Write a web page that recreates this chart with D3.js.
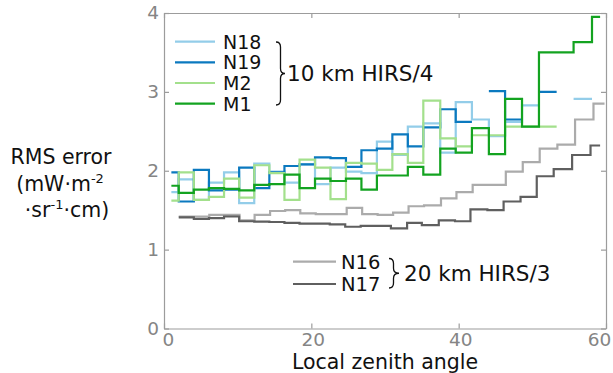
<!DOCTYPE html>
<html>
  <head>
    <meta charset="utf-8">
    <title>RMS error vs local zenith angle</title>
    <script src="https://d3js.org/d3.v7.min.js"></script>
    <style>
      body { margin: 0; background: #fff; }
      text { font-family: "DejaVu Sans", Verdana, sans-serif; }
    </style>
  </head>
  <body>
    <div class="chart"></div>
    <script>
      // bin edges (local zenith angle, deg), one more than values
      const edges4 = [1.0, 2.0, 4.05, 6.1, 8.15, 10.2, 12.25, 14.3, 16.35, 18.4, 20.5, 22.6, 24.7, 26.8, 28.9,
        31.0, 33.1, 35.2, 37.5, 39.6, 41.8, 44.1, 46.3, 48.6, 50.9, 53.3, 55.6, 58.1, 59.2];
      const edgesN16 = [2.0, 4.1, 6.15, 8.2, 10.25, 12.3, 14.4, 16.45, 18.5, 20.6, 22.7, 24.8, 26.9, 29.0,
        31.1, 33.2, 35.3, 37.6, 39.7, 41.9, 44.2, 46.4, 48.7, 51.0, 53.4, 55.8, 58.3, 59.8];
      const edgesN17 = [2.0, 4.05, 6.1, 8.15, 10.2, 12.25, 14.3, 16.35, 18.4, 20.45, 22.5, 24.6, 26.7, 28.8,
        30.8, 33.0, 35.0, 37.3, 39.5, 41.6, 43.9, 46.1, 48.4, 50.6, 52.9, 55.4, 57.9, 59.2];

      // RMS error per bin, null = no data
      const n18 = [1.73, 1.89, 1.63, 1.85, 1.98, 1.59, 2.09, 1.99, 1.85, 2.08, 1.83, 2.04, 1.99, 1.97,
        2.37, 2.20, 2.56, 2.60, 2.23, 2.87, 2.65, 2.44, 2.62, 2.83, null, null, 2.91, null];
      const n19 = [1.98, 1.61, 2.01, 1.75, 1.76, 2.04, 1.78, 1.98, 2.06, 2.08, 2.17, 2.16, 2.05, 2.26,
        2.28, 2.46, 2.31, 2.55, 2.78, 2.62, null, 3.01, 2.65, null, 3.00, null, null, null];
      const m2 = [1.62, 1.98, 1.63, 1.67, 1.90, 1.66, 2.07, 1.97, 1.63, 2.14, 2.04, 1.64, 2.10, 2.09,
        2.01, 2.21, 2.10, 2.89, 2.41, 2.31, 2.45, 2.45, 2.56, 2.56, 2.56, null, null, null];
      const m1 = [1.81, 1.72, 1.76, 1.78, 1.77, 1.75, 1.82, 1.83, 1.95, 1.78, 1.90, 1.87, 1.90, 1.76,
        1.94, 1.94, 2.05, 1.95, 2.28, 2.23, 2.54, 2.21, 2.91, 2.56, 3.50, 3.50, 3.63, 3.95];
      const n16 = [1.42, 1.42, 1.44, 1.44, 1.37, 1.44, 1.49, 1.50, 1.46, 1.45, 1.45, 1.53, 1.45, 1.44,
        1.47, 1.55, 1.56, 1.65, 1.73, 1.82, 1.82, 1.99, 2.11, 2.28, 2.33, 2.65, 2.85];
      const n17 = [1.41, 1.39, 1.40, 1.42, 1.36, 1.355, 1.35, 1.34, 1.33, 1.33, 1.32, 1.29, 1.30, 1.30,
        1.27, 1.34, 1.31, 1.37, 1.36, 1.51, 1.50, 1.61, 1.67, 1.93, 2.02, 2.20, 2.32];

      const xTicks = [0, 20, 40, 60];
      const yTicks = [0, 1, 2, 3, 4];

      const series = [
        {name: "N18", edges: edges4, values: n18, color: "#93cde9"},
        {name: "N19", edges: edges4, values: n19, color: "#0b79bf"},
        {name: "M2", edges: edges4, values: m2, color: "#a3e08c"},
        {name: "M1", edges: edges4, values: m1, color: "#13a320"},
        {name: "N16", edges: edgesN16, values: n16, color: "#ababab"},
        {name: "N17", edges: edgesN17, values: n17, color: "#5f5f5f"}
      ];

      const W = 613, H = 373;
      const svg = d3.select("div.chart").append("svg")
        .attr("width", W)
        .attr("height", H);

      const x = d3.scaleLinear().domain([0, 60]).range([164, 606]);
      const y = d3.scaleLinear().domain([0, 4]).range([328.5, 13]);
      const axisGray = "#9c9c9c";
      const tickGray = "#858585";

      // stairs like matlab: horizontal per bin, vertical joins, gaps for null
      function stairPoints(edges, values) {
        const pts = [];
        values.forEach((v, i) => {
          pts.push([edges[i], v]);
          pts.push([edges[i + 1], v]);
        });
        return pts;
      }
      const line = d3.line()
        .defined(d => d[1] != null)
        .x(d => x(d[0]))
        .y(d => y(d[1]));

      svg.append("g").selectAll("path")
        .data(series)
        .join("path")
        .attr("d", d => line(stairPoints(d.edges, d.values)))
        .attr("fill", "none")
        .attr("stroke", d => d.color)
        .attr("stroke-width", 2.2)
        .attr("stroke-linejoin", "miter");

      // axes box
      const fmt = d3.format("d");
      const axB = svg.append("g").attr("transform", `translate(0,${y(0)})`)
        .call(d3.axisBottom(x).tickValues(xTicks).tickFormat(fmt).tickSize(-5).tickPadding(4.5).tickSizeOuter(0));
      const axL = svg.append("g").attr("transform", `translate(${x(0)},0)`)
        .call(d3.axisLeft(y).tickValues(yTicks).tickFormat(fmt).tickSize(-5).tickPadding(5).tickSizeOuter(0));
      const axT = svg.append("g").attr("transform", `translate(0,${y(4)})`)
        .call(d3.axisTop(x).tickValues(xTicks).tickSize(-5).tickFormat("").tickSizeOuter(0));
      const axR = svg.append("g").attr("transform", `translate(${x(60)},0)`)
        .call(d3.axisRight(y).tickValues(yTicks).tickSize(-5).tickFormat("").tickSizeOuter(0));
      [axB, axL, axT, axR].forEach(g => {
        g.select(".domain").attr("stroke", axisGray).attr("stroke-width", 1.2);
        g.selectAll(".tick line").attr("stroke", axisGray).attr("stroke-width", 1.2);
        g.selectAll(".tick text")
          .attr("fill", tickGray)
          .style("font-size", "18.5px")
          .style("font-family", "DejaVu Sans, Verdana, sans-serif");
      });
      // end labels pulled inside the figure, as in the original
      axB.selectAll(".tick text").attr("dx", d => d === 0 ? 4 : d === 60 ? -7 : 1.5);

      // axis titles
      svg.append("text")
        .attr("x", 385).attr("y", 369)
        .attr("text-anchor", "middle")
        .attr("fill", "#111")
        .style("font-size", "20.5px")
        .text("Local zenith angle");

      const yl = svg.append("g").attr("fill", "#111").style("font-size", "20.5px");
      yl.append("text").attr("x", 61).attr("y", 164).attr("text-anchor", "middle").text("RMS error");
      const l2 = yl.append("text").attr("x", 60).attr("y", 191).attr("text-anchor", "middle");
      l2.append("tspan").text("(mW\u00b7m");
      l2.append("tspan").attr("dy", -8).style("font-size", "13px").text("-2");
      const l3 = yl.append("text").attr("x", 67).attr("y", 217).attr("text-anchor", "middle");
      l3.append("tspan").text("\u00b7sr");
      l3.append("tspan").attr("dy", -8).style("font-size", "13px").text("-1");
      l3.append("tspan").attr("dy", 8).text("\u00b7cm)");

      // legends
      function brace(xl, xb, xt, y1, y2) {
        const ym = (y1 + y2) / 2, r = 5;
        return `M${xl},${y1} Q${xb},${y1} ${xb},${y1 + r} L${xb},${ym - r} Q${xb},${ym} ${xt},${ym}` +
          ` Q${xb},${ym} ${xb},${ym + r} L${xb},${y2 - r} Q${xb},${y2} ${xl},${y2}`;
      }

      const legTop = series.slice(0, 4);
      const rowsTop = [41.7, 62.3, 83, 103.7];
      const gTop = svg.append("g");
      legTop.forEach((s, i) => {
        gTop.append("line").attr("x1", 175).attr("x2", 215)
          .attr("y1", rowsTop[i]).attr("y2", rowsTop[i])
          .attr("stroke", s.color).attr("stroke-width", 2.2);
        gTop.append("text").attr("x", 223).attr("y", rowsTop[i])
          .attr("dy", "0.36em").attr("fill", "#111").style("font-size", "19px").text(s.name);
      });
      gTop.append("path").attr("d", brace(276, 280.5, 285, 42, 105))
        .attr("fill", "none").attr("stroke", "#111").attr("stroke-width", 1.3);
      gTop.append("text").attr("x", 287).attr("y", 73).attr("dy", "0.36em")
        .attr("fill", "#111").style("font-size", "21.5px").text("10 km HIRS/4");

      const legBot = series.slice(4);
      const rowsBot = [261.7, 284];
      const gBot = svg.append("g");
      legBot.forEach((s, i) => {
        gBot.append("line").attr("x1", 293).attr("x2", 336)
          .attr("y1", rowsBot[i]).attr("y2", rowsBot[i])
          .attr("stroke", s.color).attr("stroke-width", 2.2);
        gBot.append("text").attr("x", 341).attr("y", rowsBot[i])
          .attr("dy", "0.36em").attr("fill", "#111").style("font-size", "19.5px").text(s.name);
      });
      gBot.append("path").attr("d", brace(389, 393.5, 399, 258.5, 288))
        .attr("fill", "none").attr("stroke", "#111").attr("stroke-width", 1.3);
      gBot.append("text").attr("x", 404).attr("y", 273).attr("dy", "0.36em")
        .attr("fill", "#111").style("font-size", "21.5px").text("20 km HIRS/3");
    </script>
  </body>
</html>
